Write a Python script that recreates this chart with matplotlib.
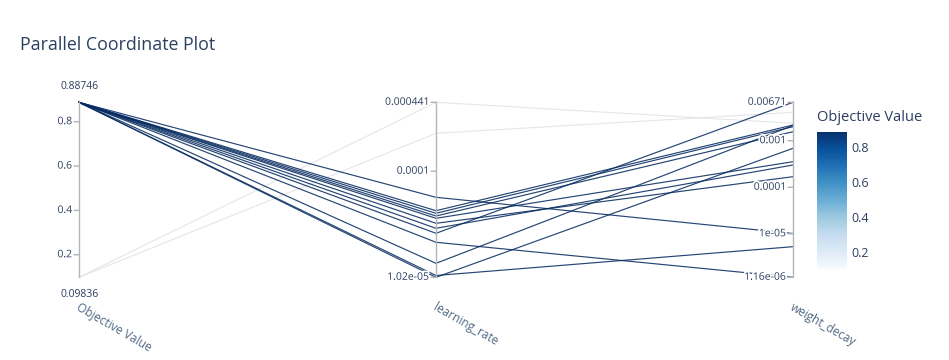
import numpy as np
import matplotlib
matplotlib.use("Agg")
import matplotlib.pyplot as plt
import matplotlib.patheffects as pe
from matplotlib.colors import Normalize

plt.rcParams['font.family'] = ['Open Sans', 'DejaVu Sans']

# one entry per trial
objective_value = [0.09836, 0.09836,
                   0.88746, 0.88712, 0.88690, 0.88731, 0.88705, 0.88746,
                   0.88720, 0.88698, 0.88739, 0.88715, 0.88702, 0.88728]
learning_rate = [4.41e-4, 2.263e-4,
                 5.706e-5, 4.278e-5, 4.045e-5, 3.816e-5, 3.632e-5, 3.262e-5,
                 2.928e-5, 2.630e-5, 2.167e-5, 1.378e-5, 1.060e-5, 1.02e-5]
weight_decay = [2.373e-3, 4.09e-3,
                1.014e-5, 2.181e-3, 2.005e-3, 1.566e-3, 3.546e-4, 1.688e-4,
                3.012e-4, 6.71e-3, 1.16e-6, 2.128e-3, 5.28e-6, 6.884e-4]

dim_names = ['Objective Value', 'learning_rate', 'weight_decay']
ov_ticks = [0.2, 0.4, 0.6, 0.8]
ov_ticklabels = ['0.2', '0.4', '0.6', '0.8']
lr_ticks = [4.41e-4, 1e-4, 1.02e-5]
lr_ticklabels = ['0.000441', '0.0001', '1.02e-05']
wd_ticks = [6.71e-3, 1e-3, 1e-4, 1e-5, 1.16e-6]
wd_ticklabels = ['0.00671', '0.001', '0.0001', '1e-05', '1.16e-06']

TXT = '#2a3f5f'
W, H = 949, 360

fig = plt.figure(figsize=(W / 100, H / 100), dpi=100)
ax = fig.add_axes([79 / W, 1 - 277.3 / H, (793 - 79) / W, 175 / H])
ax.set_xlim(0, 2)
ax.set_ylim(0, 1)
ax.axis('off')

ov = np.array(objective_value)
lr = np.log10(learning_rate)
wd = np.log10(weight_decay)


def scale(v, arr):
    return (v - arr.min()) / (arr.max() - arr.min())


cols = [scale(ov, ov), scale(lr, lr), scale(wd, wd)]
norm = Normalize(ov.min(), ov.max())
cmap = plt.get_cmap('Blues')

order = np.argsort(ov)
for i in order:
    c = np.array(cmap(norm(ov[i])))
    c[:3] = c[:3] * 0.91
    ax.plot([0, 1, 2], [cols[0][i], cols[1][i], cols[2][i]], color=c,
            lw=0.85, alpha=0.88, clip_on=False, zorder=2)

halo = [pe.withStroke(linewidth=2.5, foreground='white')]
px = 0.72  # points per pixel


def draw_axis(x, ticks, labels, tvals):
    ax.plot([x, x], [0, 1], color='#b4b4b4', lw=1, zorder=3, clip_on=False)
    for t, lab in zip(tvals, labels):
        ax.annotate('', xy=(x, t), xytext=(-5 * px, 0), textcoords='offset points',
                    arrowprops=dict(arrowstyle='-', color='#b4b4b4', lw=1,
                                    shrinkA=0, shrinkB=0), zorder=3)
        ax.annotate(lab, xy=(x, t), xytext=(-7 * px, 0), textcoords='offset points',
                    ha='right', va='center', fontsize=7.5, color=TXT,
                    path_effects=halo, zorder=4)


draw_axis(0, ov_ticks, ov_ticklabels, list(scale(np.array(ov_ticks), ov)))
draw_axis(1, lr_ticks, lr_ticklabels, list(scale(np.log10(lr_ticks), lr)))
draw_axis(2, wd_ticks, wd_ticklabels, list(scale(np.log10(wd_ticks), wd)))

ax.annotate(f'{ov.max():.5f}', xy=(0, 1), xytext=(1 * px, 16 * px), textcoords='offset points',
            ha='center', va='center', fontsize=7.5, color=TXT)
ax.annotate(f'{ov.min():.5f}', xy=(0, 0), xytext=(1 * px, -17 * px), textcoords='offset points',
            ha='center', va='center', fontsize=7.5, color=TXT)

for k, name in enumerate(dim_names):
    ax.annotate(name, xy=(k, 0), xytext=(1 * px, -23 * px), textcoords='offset points',
                ha='left', va='top', rotation=-30, rotation_mode='anchor',
                fontsize=8.5, color='#506784')

fig.text(20 / W, 1 - 45 / H, 'Parallel Coordinate Plot', ha='left', va='center',
         fontsize=12.75, color=TXT)

cax = fig.add_axes([817 / W, 1 - 269.3 / H, 30 / W, 137.6 / H])
sm = plt.cm.ScalarMappable(norm=norm, cmap=cmap)
cb = fig.colorbar(sm, cax=cax)
cb.outline.set_visible(False)
cb.set_ticks(ov_ticks)
cb.set_ticklabels(ov_ticklabels)
cax.tick_params(length=0, pad=3, labelsize=9, labelcolor=TXT)
fig.text(817 / W, 1 - 118 / H, 'Objective Value', ha='left', va='center',
         fontsize=10.5, color=TXT)

fig.savefig('out.png', dpi=100)
